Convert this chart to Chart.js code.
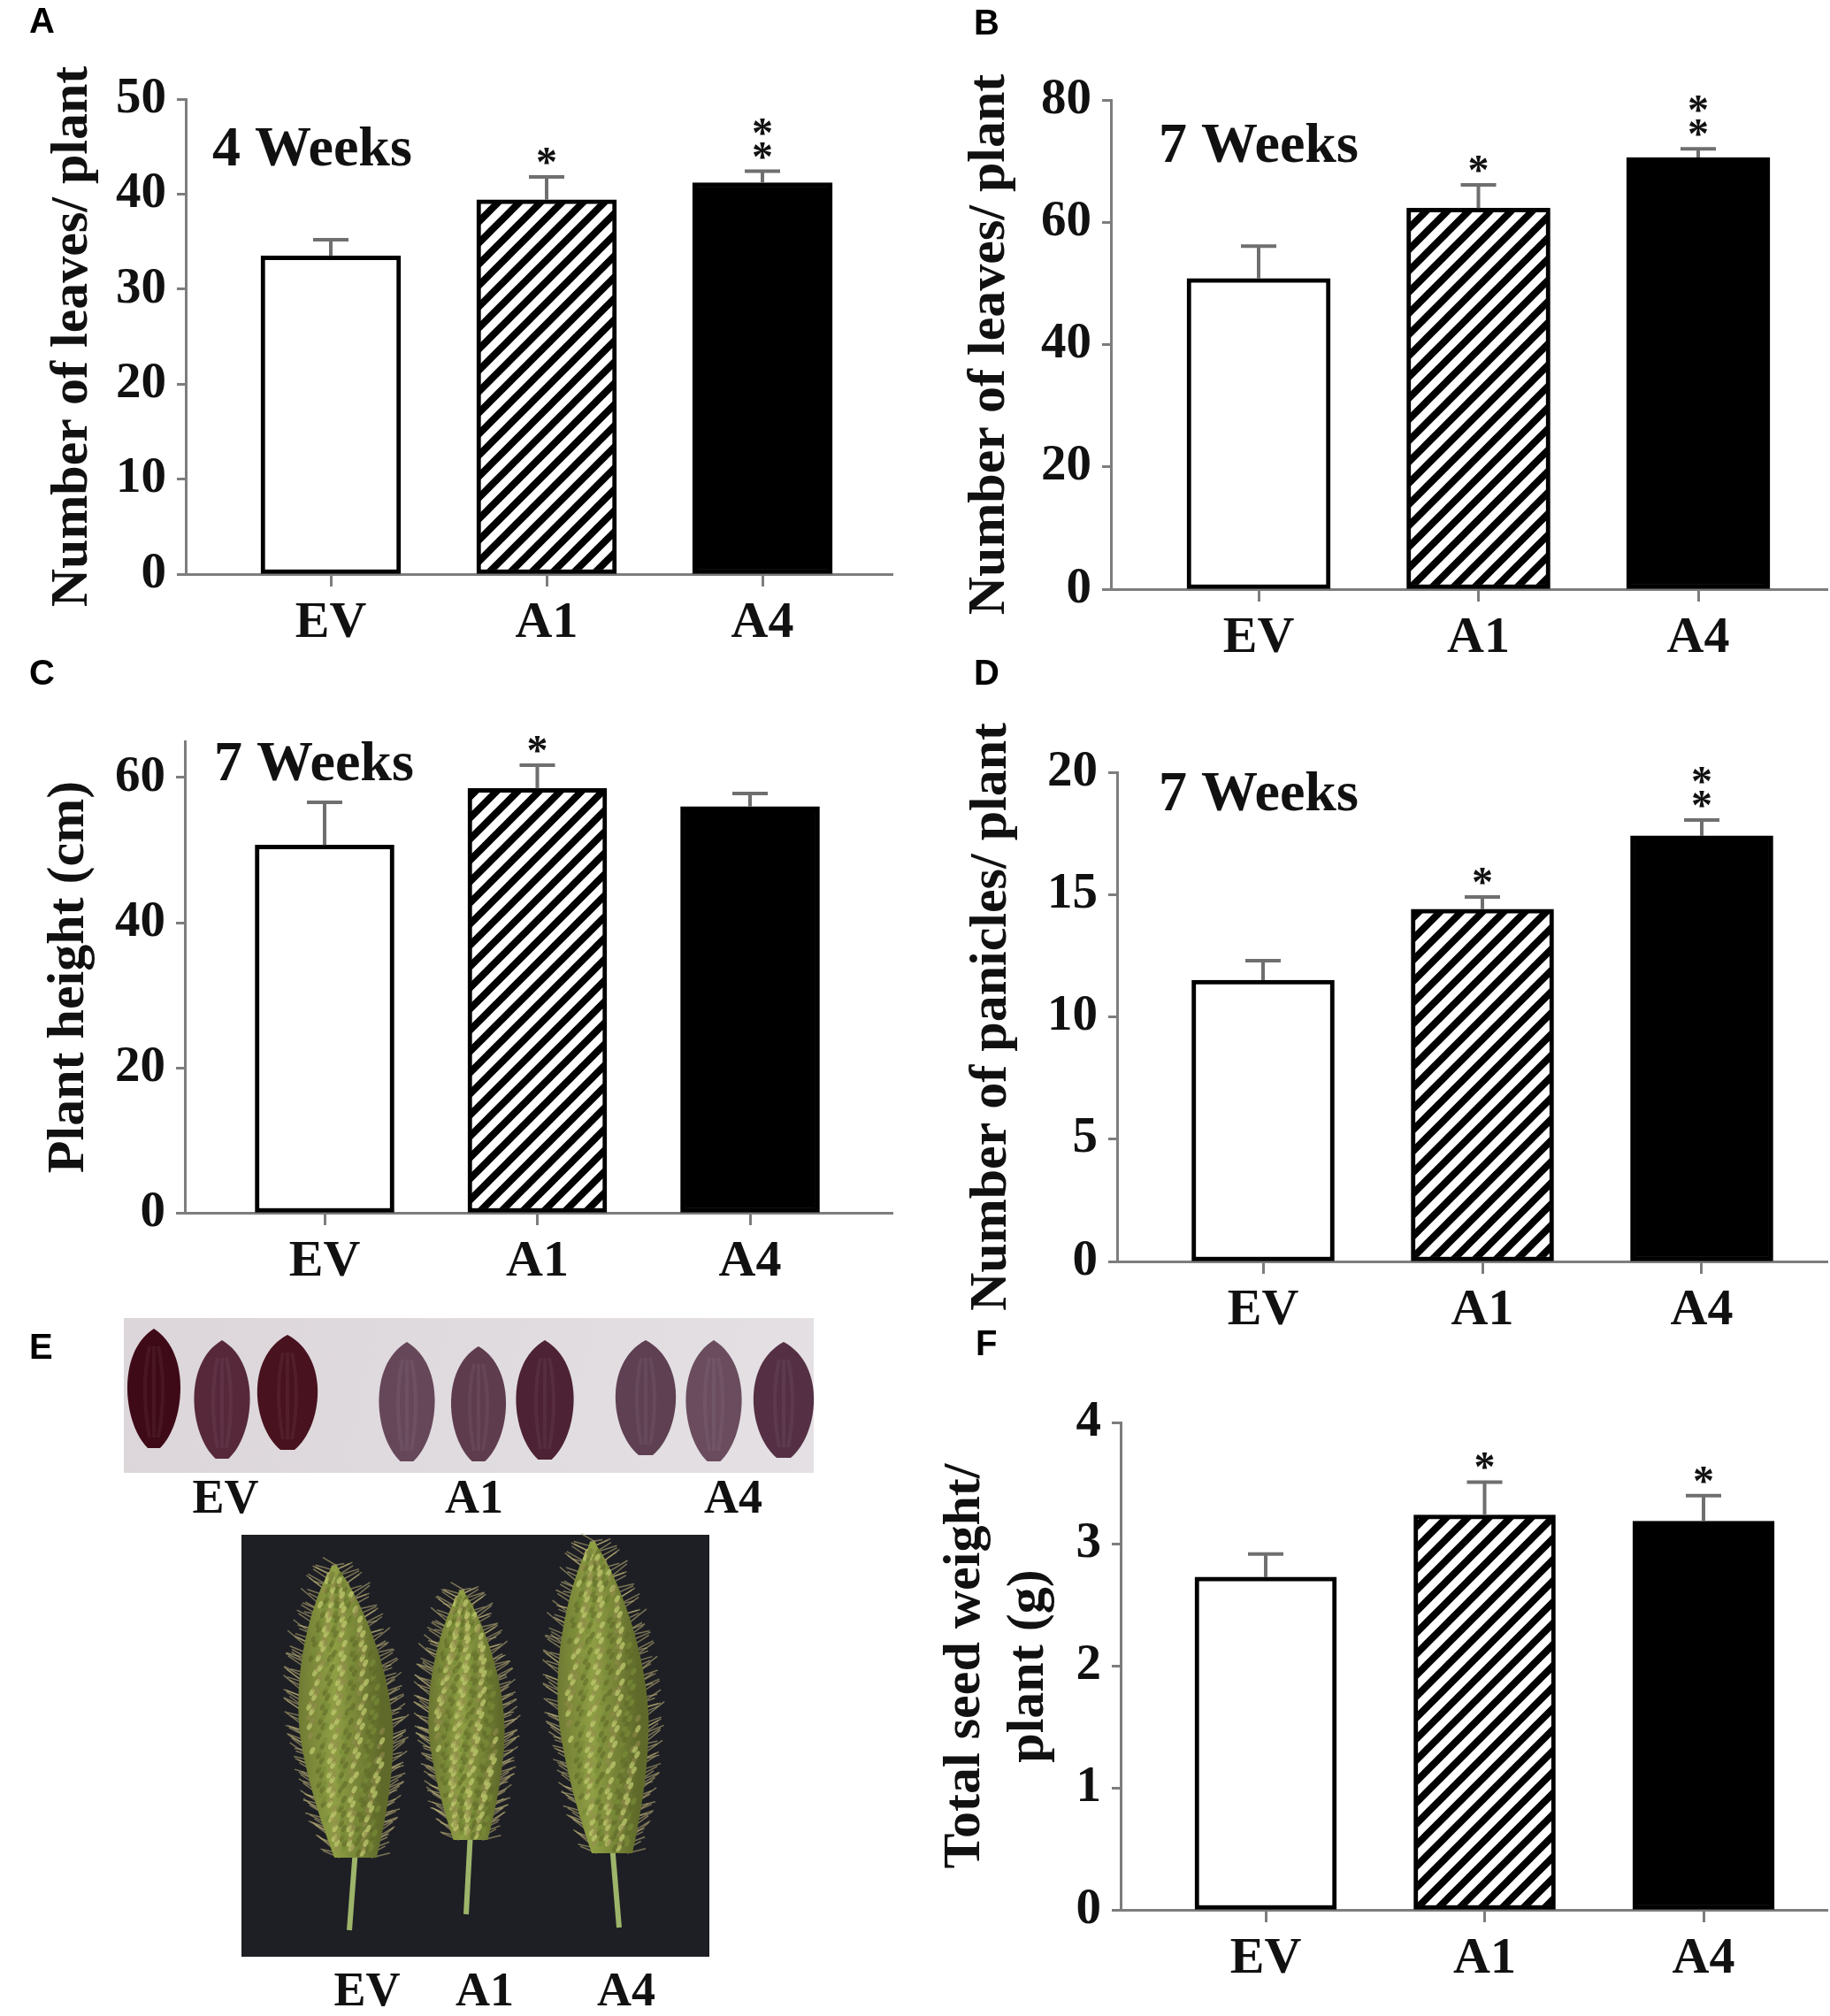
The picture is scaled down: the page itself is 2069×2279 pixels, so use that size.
<!DOCTYPE html>
<html>
<head>
<meta charset="utf-8">
<script src="https://cdn.jsdelivr.net/npm/chart.js@4.4.1/dist/chart.umd.min.js"></script>
<style>
  html, body { margin: 0; padding: 0; background: #fff; }
  #fig { position: relative; width: 2069px; height: 2279px; overflow: hidden; background: #fff; }
  #fig canvas { position: absolute; }
</style>
</head>
<body>
<div id="fig"><canvas id="bg" width="2069" height="2279" style="left:0;top:0;width:2069px;height:2279px"></canvas></div>
<script>
// groups on every x axis
const groups = ["EV", "A1", "A4"];

// A: leaves per plant, 4 weeks
const leaves4wk = [33.5, 39.4, 41.2];
const leaves4wkErr = [1.7, 2.4, 1.2];
const leaves4wkSig = ["", "*", "**"];
const leaves4wkTicks = [0, 10, 20, 30, 40, 50];

// B: leaves per plant, 7 weeks
const leaves7wk = [50.8, 62.3, 70.6];
const leaves7wkErr = [5.3, 3.8, 1.4];
const leaves7wkSig = ["", "*", "**"];
const leaves7wkTicks = [0, 20, 40, 60, 80];

// C: plant height (cm), 7 weeks
const height7wk = [50.7, 58.5, 56.0];
const height7wkErr = [5.9, 3.2, 1.8];
const height7wkSig = ["", "*", ""];
const height7wkTicks = [0, 20, 40, 60];
const height7wkAxisMax = 65;

// D: panicles per plant, 7 weeks
const panicles7wk = [11.5, 14.4, 17.4];
const panicles7wkErr = [0.8, 0.5, 0.65];
const panicles7wkSig = ["", "*", "**"];
const panicles7wkTicks = [0, 5, 10, 15, 20];

// F: total seed weight per plant (g)
const seedWeight = [2.73, 3.24, 3.19];
const seedWeightErr = [0.19, 0.27, 0.21];
const seedWeightSig = ["", "*", "*"];
const seedWeightTicks = [0, 1, 2, 3, 4];

const serif = '"Liberation Serif", "Times New Roman", serif';
const ink = "#111";
const axisGray = "#7d7d7d";

function hatchPattern() {
  const c = document.createElement("canvas");
  c.width = 24; c.height = 24;
  const g = c.getContext("2d");
  g.fillStyle = "#fff";
  g.fillRect(0, 0, 24, 24);
  g.strokeStyle = "#000";
  g.lineWidth = 8;
  g.beginPath();
  for (const k of [-1, 0, 1]) {
    g.moveTo(k * 24 - 4, 28);
    g.lineTo(k * 24 + 28, -4);
  }
  g.stroke();
  return g.createPattern(c, "repeat");
}
const hatch = hatchPattern();

const panels = [
  { box: { x: 0, y: 0, w: 1035, h: 760 }, axisX: 210, topY: 112, zeroY: 649, rightX: 1009,
    tick0X: 374, tickStep: 244, barW: 158, titlePad: 46,
    note: { text: "4 Weeks", dx: 30, dy: 75 },
    values: leaves4wk, errors: leaves4wkErr, sig: leaves4wkSig, yTicks: leaves4wkTicks, yMax: 50,
    yTitle: "Number of leaves/ plant" },
  { box: { x: 1035, y: 0, w: 1034, h: 760 }, axisX: 1256, topY: 113, zeroY: 666, rightX: 2066,
    tick0X: 1423, tickStep: 248.5, barW: 162, titlePad: 48,
    note: { text: "7 Weeks", dx: 54, dy: 70 },
    values: leaves7wk, errors: leaves7wkErr, sig: leaves7wkSig, yTicks: leaves7wkTicks, yMax: 80,
    yTitle: "Number of leaves/ plant" },
  { box: { x: 0, y: 760, w: 1035, h: 740 }, axisX: 209, topY: 838, zeroY: 1371, rightX: 1009,
    tick0X: 367, tickStep: 240.5, barW: 157, titlePad: 42,
    note: { text: "7 Weeks", dx: 33, dy: 44 },
    values: height7wk, errors: height7wkErr, sig: height7wkSig, yTicks: height7wkTicks, yMax: height7wkAxisMax,
    yTitle: "Plant height (cm)" },
  { box: { x: 1035, y: 760, w: 1034, h: 740 }, axisX: 1263, topY: 873, zeroY: 1426, rightX: 2066,
    tick0X: 1428, tickStep: 248, barW: 161, titlePad: 50,
    note: { text: "7 Weeks", dx: 47, dy: 43 },
    values: panicles7wk, errors: panicles7wkErr, sig: panicles7wkSig, yTicks: panicles7wkTicks, yMax: 20,
    yTitle: "Number of panicles/ plant" },
  { box: { x: 1035, y: 1500, w: 1034, h: 779 }, axisX: 1267, topY: 1608, zeroY: 2159, rightX: 2066,
    tick0X: 1431, tickStep: 247.5, barW: 160, titlePad: 20, titleLine: 1.2,
    note: null,
    values: seedWeight, errors: seedWeightErr, sig: seedWeightSig, yTicks: seedWeightTicks, yMax: 4,
    yTitle: ["Total seed weight/", "plant (g)"] }
];

// error bars, significance stars and the "N Weeks" note
function annotate(p) {
  return {
    id: "annotate",
    afterDatasetsDraw(chart) {
      const { ctx, chartArea } = chart;
      const x = chart.scales.x, y = chart.scales.y;
      ctx.save();
      p.values.forEach((v, i) => {
        const px = x.getPixelForValue(i);
        const base = y.getPixelForValue(v);
        const top = y.getPixelForValue(v + p.errors[i]);
        ctx.strokeStyle = "#6f6f6f";
        ctx.lineWidth = 4;
        ctx.beginPath();
        ctx.moveTo(px, base);
        ctx.lineTo(px, top);
        ctx.moveTo(px - 20, top);
        ctx.lineTo(px + 20, top);
        ctx.stroke();
        ctx.fillStyle = ink;
        ctx.font = "bold 48px " + serif;
        ctx.textAlign = "center";
        ctx.textBaseline = "alphabetic";
        for (let s = 0; s < p.sig[i].length; s++) {
          const cy = top - 26 - s * 27;
          ctx.fillText("*", px, cy + 25);
        }
      });
      if (p.note) {
        ctx.fillStyle = ink;
        ctx.font = "bold 64px " + serif;
        ctx.textAlign = "left";
        ctx.textBaseline = "alphabetic";
        ctx.fillText(p.note.text, chartArea.left + p.note.dx, chartArea.top + p.note.dy);
      }
      ctx.restore();
    }
  };
}

const fig = document.getElementById("fig");

panels.forEach(p => {
  const cv = document.createElement("canvas");
  cv.width = p.box.w;
  cv.height = p.box.h;
  cv.style.left = p.box.x + "px";
  cv.style.top = p.box.y + "px";
  cv.style.width = p.box.w + "px";
  cv.style.height = p.box.h + "px";
  fig.appendChild(cv);

  const xMin = (p.axisX - p.tick0X) / p.tickStep;
  const xMax = (p.rightX - p.tick0X) / p.tickStep;

  new Chart(cv, {
    type: "bar",
    data: {
      datasets: [{
        data: p.values.map((v, i) => ({ x: i, y: v })),
        backgroundColor: ["#ffffff", hatch, "#000000"],
        borderColor: "#000",
        borderWidth: 5,
        borderSkipped: false,
        barThickness: p.barW
      }]
    },
    options: {
      responsive: false,
      devicePixelRatio: 1,
      animation: false,
      layout: { padding: { left: 0, top: p.topY - p.box.y, right: p.box.x + p.box.w - p.rightX, bottom: 0 } },
      plugins: { legend: { display: false }, tooltip: { enabled: false } },
      scales: {
        x: {
          type: "linear",
          min: xMin,
          max: xMax,
          offset: false,
          afterBuildTicks: s => { s.ticks = groups.map((g, i) => ({ value: i })); },
          afterFit: s => { s.height = p.box.y + p.box.h - p.zeroY; },
          border: { color: axisGray, width: 3 },
          grid: { offset: false, drawOnChartArea: false, drawTicks: true, tickLength: 14, tickColor: axisGray, tickWidth: 3 },
          ticks: {
            autoSkip: false, maxRotation: 0, padding: 7, color: ink,
            font: { family: serif, weight: "bold", size: 58 },
            callback: v => groups[v]
          }
        },
        y: {
          min: 0,
          max: p.yMax,
          afterBuildTicks: s => { s.ticks = p.yTicks.map(v => ({ value: v })); },
          afterFit: s => { s.width = p.axisX - p.box.x; },
          border: { color: axisGray, width: 3 },
          grid: { drawOnChartArea: false, drawTicks: true, tickLength: 10, tickColor: axisGray, tickWidth: 3 },
          ticks: { padding: 12, color: ink, font: { family: serif, weight: "bold", size: 57 } },
          title: {
            display: true, text: p.yTitle, color: ink,
            font: { family: serif, weight: "bold", size: 60, lineHeight: p.titleLine || 1.2 },
            padding: { top: p.titlePad, bottom: 0 }
          }
        }
      }
    },
    plugins: [annotate(p)]
  });
});

// background: panel letters and the photo panel E (drawn as an illustration)
(function drawBackground() {
  const ctx = document.getElementById("bg").getContext("2d");

  ctx.fillStyle = "#000";
  ctx.font = 'bold 40px "Liberation Sans", Arial, sans-serif';
  [["A", 33, 37], ["B", 1101, 39], ["C", 33, 774], ["D", 1101, 774], ["E", 33, 1536], ["F", 1103, 1532]]
    .forEach(([t, x, y]) => ctx.fillText(t, x, y));

  // seed photo
  const bgGrad = ctx.createLinearGradient(140, 1490, 920, 1665);
  bgGrad.addColorStop(0, "#dcd6da");
  bgGrad.addColorStop(1, "#e4e0e3");
  ctx.fillStyle = bgGrad;
  ctx.fillRect(140, 1490, 780, 175);

  const seeds = [
    [174, 1502, 1637, 58, "#3f0a18"], [251, 1515, 1649, 61, "#56283a"], [325, 1509, 1639, 66, "#48121f"],
    [460, 1517, 1652, 61, "#66475a"], [541, 1522, 1652, 60, "#5e3c4e"], [616, 1515, 1650, 63, "#4c2234"],
    [730, 1515, 1645, 66, "#5e4052"], [807, 1515, 1652, 61, "#6a4c5e"], [886, 1517, 1648, 66, "#553044"]
  ];
  seeds.forEach(([cx, top, bot, w, col]) => {
    const h = bot - top;
    ctx.fillStyle = col;
    ctx.beginPath();
    ctx.moveTo(cx, top);
    ctx.bezierCurveTo(cx + w * 0.74, top + h * 0.2, cx + w * 0.6, top + h * 0.8, cx + w * 0.12, bot);
    ctx.lineTo(cx - w * 0.12, bot);
    ctx.bezierCurveTo(cx - w * 0.6, top + h * 0.8, cx - w * 0.74, top + h * 0.2, cx, top);
    ctx.fill();
    ctx.strokeStyle = "rgba(255,255,255,0.05)";
    ctx.lineWidth = 4;
    for (let k = -1; k <= 1; k++) {
      ctx.beginPath();
      ctx.moveTo(cx + k * 5, top + 20);
      ctx.quadraticCurveTo(cx + k * 15, top + h * 0.5, cx + k * 5, bot - 12);
      ctx.stroke();
    }
  });

  ctx.fillStyle = ink;
  ctx.font = "bold 54px " + serif;
  ctx.textAlign = "center";
  [["EV", 255], ["A1", 536], ["A4", 829]].forEach(([t, x]) => ctx.fillText(t, x, 1710));

  // panicle photo
  ctx.fillStyle = "#1e1f24";
  ctx.fillRect(273, 1735, 529, 477);

  const heads = [
    { tx: 378, ty: 1770, bx: 402, by: 2100, w: 106, sx: 395, sy: 2182 },
    { tx: 522, ty: 1798, bx: 532, by: 2080, w: 86, sx: 527, sy: 2164 },
    { tx: 670, ty: 1743, bx: 692, by: 2095, w: 102, sx: 700, sy: 2179 }
  ];
  const halfWidth = t => t < 0.55
    ? Math.pow(Math.sin((Math.PI / 2) * (t / 0.55)), 0.75)
    : 1 - 0.55 * Math.pow((t - 0.55) / 0.45, 1.6);

  heads.forEach(h => {
    // stem
    ctx.strokeStyle = "#9db46a";
    ctx.lineWidth = 6;
    ctx.beginPath();
    ctx.moveTo(h.bx, h.by - 10);
    ctx.lineTo(h.sx, h.sy);
    ctx.stroke();

    const n = 60;
    const left = [], right = [];
    for (let k = 0; k <= n; k++) {
      const t = k / n;
      const cx = h.tx + (h.bx - h.tx) * t;
      const cy = h.ty + (h.by - h.ty) * t;
      const hw = (h.w / 2) * Math.max(0.06, halfWidth(t));
      left.push([cx - hw, cy]);
      right.push([cx + hw, cy]);
    }
    // bristles around the head
    ctx.strokeStyle = "rgba(185,175,120,0.6)";
    ctx.lineWidth = 1.5;
    for (let k = 0; k < 180; k++) {
      const t = (k * 0.618034) % 1;
      const idx = Math.round(t * n);
      const side = k % 2 ? left[idx] : right[idx];
      const dir = k % 2 ? -1 : 1;
      const len = 8 + 10 * ((k * 0.7548776) % 1);
      const lift = 0.3 + 0.9 * ((k * 0.5698403) % 1);
      ctx.beginPath();
      ctx.moveTo(side[0] - dir * 6, side[1]);
      ctx.lineTo(side[0] + dir * len, side[1] - len * lift);
      ctx.stroke();
    }
    const grad = ctx.createLinearGradient(h.tx - h.w / 2, 0, h.tx + h.w / 2, 0);
    grad.addColorStop(0, "#66702e");
    grad.addColorStop(0.5, "#8f9f44");
    grad.addColorStop(1, "#5f6a2a");
    ctx.fillStyle = grad;
    ctx.beginPath();
    ctx.moveTo(left[0][0], left[0][1]);
    left.forEach(q => ctx.lineTo(q[0], q[1]));
    for (let k = n; k >= 0; k--) ctx.lineTo(right[k][0], right[k][1]);
    ctx.closePath();
    ctx.fill();
    // spikelet texture
    const tones = ["rgba(190,200,110,0.75)", "rgba(95,105,40,0.6)", "rgba(150,140,80,0.55)", "rgba(120,140,55,0.7)"];
    for (let k = 0; k < 420; k++) {
      const t = 0.03 + 0.95 * ((k * 0.618034) % 1);
      const f = 0.1 + 0.8 * ((k * 0.7548776) % 1);
      const idx = Math.round(t * n);
      const px = left[idx][0] + (right[idx][0] - left[idx][0]) * f;
      const py = left[idx][1];
      ctx.fillStyle = tones[k % 4];
      ctx.beginPath();
      ctx.ellipse(px, py, 2.5, 4.5, 0.5, 0, Math.PI * 2);
      ctx.fill();
    }
  });

  ctx.fillStyle = ink;
  ctx.font = "bold 54px " + serif;
  [["EV", 415], ["A1", 548], ["A4", 708]].forEach(([t, x]) => ctx.fillText(t, x, 2267));
})();
</script>
</body>
</html>
